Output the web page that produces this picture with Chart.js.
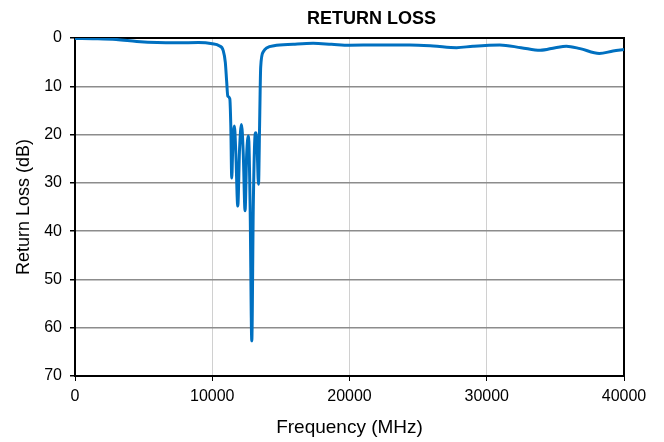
<!DOCTYPE html>
<html>
<head>
<meta charset="utf-8">
<script src="https://cdn.jsdelivr.net/npm/chart.js@4.4.1/dist/chart.umd.min.js"></script>
<style>
  html, body { margin: 0; padding: 0; background: #fff; }
  #wrap { width: 664px; height: 442px; }
</style>
</head>
<body>
<div id="wrap"><canvas id="rl"></canvas></div>
<script>
// return loss sweep
const freqMHz = [
  0, 1500, 3000, 4500, 6000, 7500, 9000, 10000, 10500, 10800, 10950, 11050,
  11130, 11280, 11350, 11420, 11500, 11610, 11720, 11860, 11990, 12130, 12260,
  12390, 12510, 12640, 12760, 12880, 12990, 13100, 13170, 13260, 13370, 13450,
  13530, 13730, 14000, 14500, 15900, 17350, 18700, 20000, 22000, 24400, 26100,
  27800, 29000, 30950, 32500, 33900, 35000, 35800, 36800, 38200, 39200, 40000
];
const returnLossDb = [
  0.1, 0.15, 0.3, 0.7, 0.95, 1.0, 0.95, 1.2, 1.6, 2.6, 5, 9,
  12.0, 12.6, 18, 29, 22, 18.2, 24, 34.8, 23, 17.9, 24,
  35.8, 24, 20.3, 35, 62.7, 35, 21, 19.6, 22, 30.3, 18,
  6, 2.8, 2.0, 1.6, 1.3, 1.1, 1.3, 1.5, 1.45, 1.45, 1.65,
  2.0, 1.7, 1.45, 2.0, 2.55, 2.0, 1.7, 2.2, 3.2, 2.7, 2.4
];
const xTicks = [0, 10000, 20000, 30000, 40000];
const yTicks = [0, 10, 20, 30, 40, 50, 60, 70];
const chartTitle = 'RETURN LOSS';

const FONT = '"Liberation Sans", Arial, sans-serif';

// black box round the plot + title placed like the original
const frame = {
  id: 'frame',
  beforeDatasetsDraw(chart) {
    const { ctx, chartArea: a } = chart;
    ctx.save();
    ctx.strokeStyle = '#000';
    ctx.lineWidth = 2;
    ctx.strokeRect(a.left, a.top, a.right - a.left, a.bottom - a.top);
    ctx.restore();
  },
  afterDraw(chart) {
    const { ctx, chartArea: a } = chart;
    ctx.save();
    ctx.fillStyle = '#000';
    ctx.font = 'bold 18px ' + FONT;
    ctx.textAlign = 'center';
    ctx.textBaseline = 'middle';
    ctx.fillText(chartTitle, (a.left + a.right) / 2 + 22, a.top - 19);
    ctx.restore();
  }
};

new Chart(document.getElementById('rl'), {
  type: 'line',
  data: {
    datasets: [{
      data: freqMHz.map((f, i) => ({ x: f, y: returnLossDb[i] })),
      borderColor: '#0070c0',
      borderWidth: 3,
      pointRadius: 0,
      cubicInterpolationMode: 'monotone',
      fill: false
    }]
  },
  options: {
    responsive: true,
    maintainAspectRatio: false,
    animation: false,
    layout: { padding: { top: 38, right: 40, left: 13, bottom: 3 } },
    plugins: { legend: { display: false }, tooltip: { enabled: false } },
    scales: {
      x: {
        type: 'linear',
        min: 0, max: 40000,
        afterBuildTicks: (s) => { s.ticks = xTicks.map(v => ({ value: v })); },
        ticks: { color: '#000', font: { family: FONT, size: 16 }, padding: 6, maxRotation: 0,
                 callback: (v) => String(v) },
        grid: { color: '#d0d0d0', lineWidth: 1, tickColor: '#000', tickLength: 5 },
        border: { color: '#000', width: 2 },
        title: { display: true, text: 'Frequency (MHz)', color: '#000',
                 font: { family: FONT, size: 19 }, padding: { top: 4, bottom: 0 } }
      },
      y: {
        type: 'linear',
        reverse: true,
        min: 0, max: 70,
        afterBuildTicks: (s) => { s.ticks = yTicks.map(v => ({ value: v })); },
        afterFit: (s) => { s.width = 62; },
        ticks: { color: '#000', font: { family: FONT, size: 16 }, padding: 8 },
        grid: { color: '#8c8c8c', lineWidth: 1.5, tickColor: '#000', tickLength: 5 },
        border: { color: '#000', width: 2 },
        title: { display: true, text: 'Return Loss (dB)', color: '#000',
                 font: { family: FONT, size: 18 }, padding: { top: 0, bottom: 8 } }
      }
    }
  },
  plugins: [frame]
});
</script>
</body>
</html>
